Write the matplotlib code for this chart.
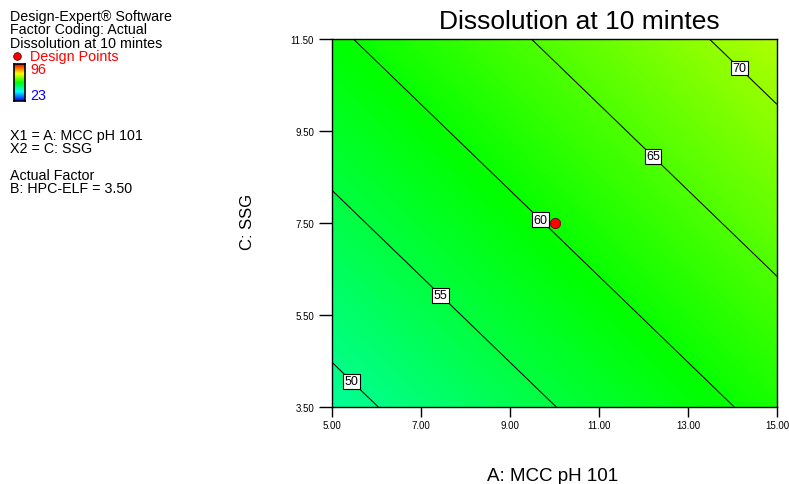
import numpy as np
import matplotlib
matplotlib.use("Agg")
import matplotlib.pyplot as plt
from matplotlib.colors import LinearSegmentedColormap, Normalize

plt.rcParams["font.family"] = ["Liberation Sans", "DejaVu Sans"]

# factor ranges (A: MCC pH 101, C: SSG) and response read at the corners
a_range = [5.0, 15.0]
c_range = [3.5, 11.5]
resp_corners = [[48.7, 61.2],   # C = 3.5  (A = 5, 15)
                [59.4, 71.9]]   # C = 11.5
levels = [50, 55, 60, 65, 70]
design_a = [10.0]
design_c = [7.5]
resp_min, resp_max = 23, 96

x_ticks = [5, 7, 9, 11, 13, 15]
y_ticks = [3.5, 5.5, 7.5, 9.5, 11.5]

info_lines = ["Design-Expert\u00ae Software", "Factor Coding: Actual",
              "Dissolution at 10 mintes"]
factor_lines = ["X1 = A: MCC pH 101", "X2 = C: SSG"]
actual_lines = ["Actual Factor", "B: HPC-ELF = 3.50"]

W, H = 789, 485
cmap = LinearSegmentedColormap.from_list(
    "dx", ["#0000ff", "#00ffff", "#00ff00", "#ffff00", "#ff0000"])
norm = Normalize(resp_min, resp_max)

fig = plt.figure(figsize=(W / 100, H / 100), dpi=100)

def px(x, y):
    return x / W, 1 - y / H

ax = fig.add_axes([332 / W, (H - 408) / H, 445 / W, 368 / H])
A, C = np.meshgrid(a_range, c_range)
Z = np.array(resp_corners)
ax.contourf(A, C, Z, levels=np.linspace(resp_min, resp_max, 600),
            cmap=cmap, norm=norm)
cs = ax.contour(A, C, Z, levels=levels, colors="black", linewidths=0.75)
label_pos = [(5.49, 4.11), (7.49, 5.98), (9.72, 7.61), (12.26, 9.0), (14.19, 10.91)]
lbls = ax.clabel(cs, inline=False, fontsize=9, fmt="%d", manual=label_pos)
for t in lbls:
    t.set_rotation(0)
    t.set_bbox(dict(facecolor="white", edgecolor="black", pad=1.0, linewidth=0.8))

ax.scatter(design_a, design_c, s=55, color="#ff0000", edgecolor="#600000",
           linewidth=0.6, zorder=5, clip_on=False)

ax.set_xlim(a_range)
ax.set_ylim(c_range)
ax.set_xticks(x_ticks)
ax.set_yticks(y_ticks)
ax.set_xticklabels([f"{v:.2f}" for v in x_ticks])
ax.set_yticklabels([f"{v:.2f}" for v in y_ticks])
ax.tick_params(axis="y", direction="out", length=9.4, width=1, pad=3.6, labelsize=7)
ax.tick_params(axis="x", direction="out", length=7, width=1, pad=2.5, labelsize=7)
for s in ax.spines.values():
    s.set_linewidth(1)

fig.text(*px(579.5, 22), "Dissolution at 10 mintes", fontsize=19,
         ha="center", va="center")
fig.text(*px(553, 477), "A: MCC pH 101", fontsize=13.5, ha="center", va="center")
fig.text(*px(247, 222), "C: SSG", fontsize=12, ha="center", va="center",
         rotation=90)

# legend block on the left
fs = 10.3
for i, s in enumerate(info_lines):
    fig.text(*px(10, 17 + 13.3 * i), s, fontsize=fs, va="center")
fig.text(*px(30, 57), "Design Points", fontsize=fs, va="center", color="#ff0000")
fig.text(*px(30, 70), str(resp_max), fontsize=fs, va="center", color="#ff0000")
fig.text(*px(30, 96), str(resp_min), fontsize=fs, va="center", color="#0000ff")
dot = fig.add_axes([12 / W, 1 - 61 / H, 10 / W, 9 / H])
dot.axis("off")
dot.scatter([0], [0], s=30, color="#ff0000", edgecolor="#600000", linewidth=0.6)

cax = fig.add_axes([14 / W, 1 - 102 / H, 11 / W, 37 / H])
grad = np.linspace(resp_max, resp_min, 100).reshape(-1, 1)
cax.imshow(grad, cmap=cmap, norm=norm, aspect="auto")
cax.set_xticks([])
cax.set_yticks([])
for s in cax.spines.values():
    s.set_linewidth(1.2)

for i, s in enumerate(factor_lines):
    fig.text(*px(10, 136 + 13.3 * i), s, fontsize=fs, va="center")
for i, s in enumerate(actual_lines):
    fig.text(*px(10, 176 + 13.3 * i), s, fontsize=fs, va="center")

fig.savefig("out.png", dpi=100)
